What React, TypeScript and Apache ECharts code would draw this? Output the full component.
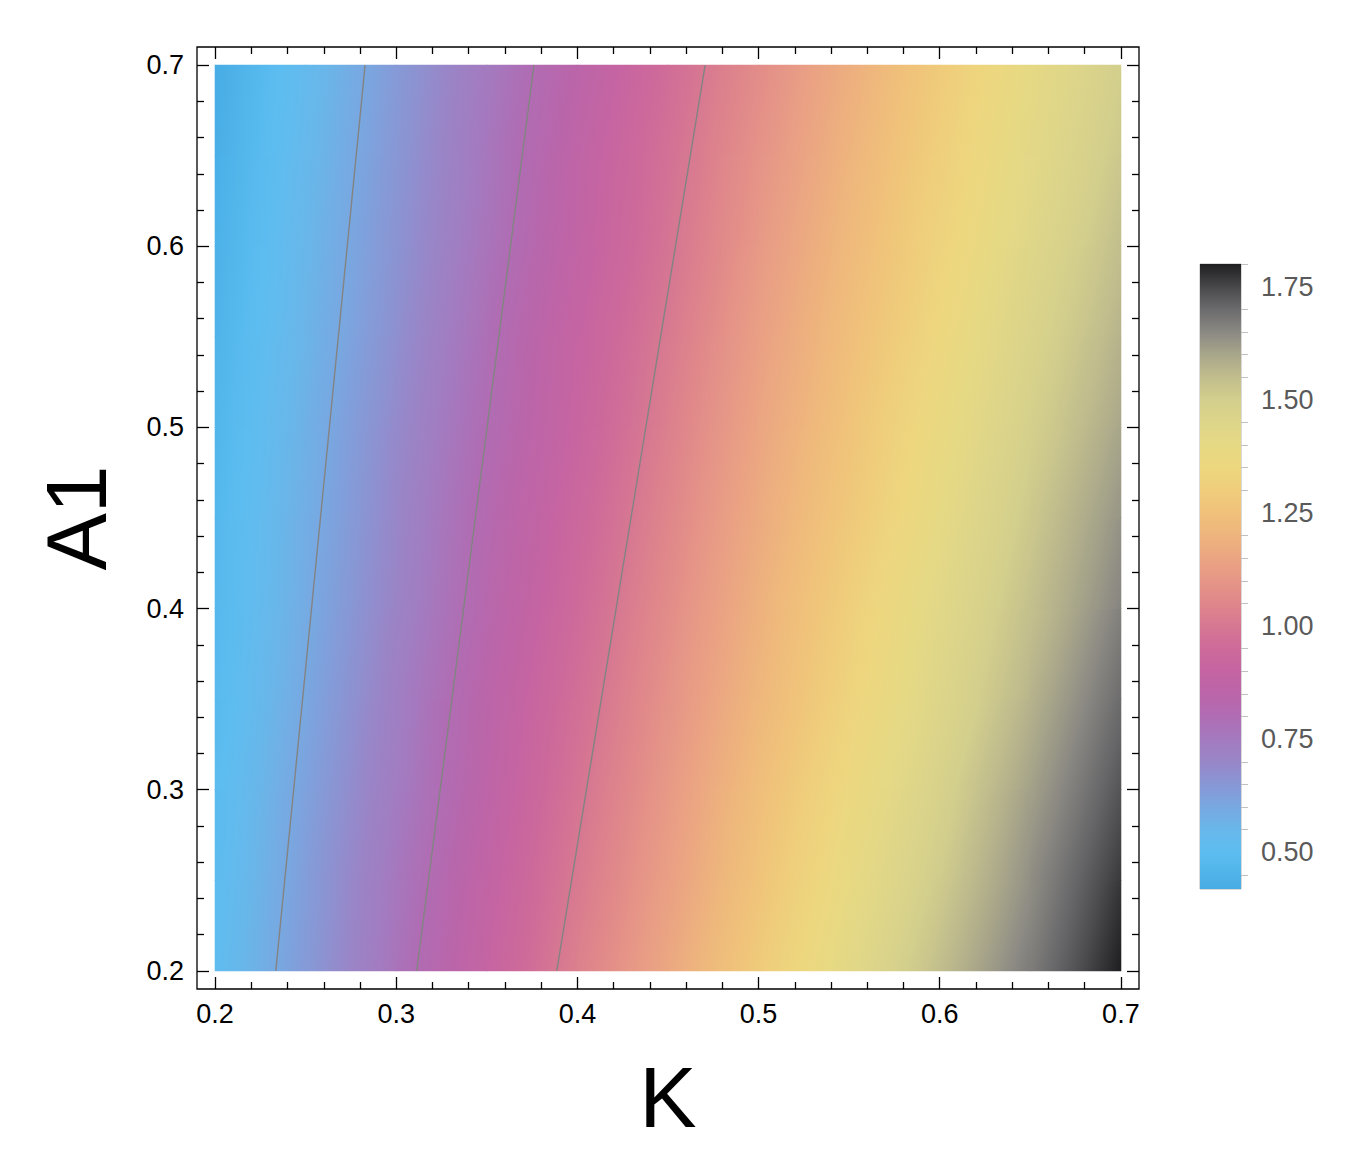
import React, { useEffect, useRef } from "react";
import * as echarts from "echarts";

// ---------- data ----------
const kValues = [0.2, 0.25, 0.3, 0.35, 0.4, 0.45, 0.5, 0.55, 0.6, 0.65, 0.7];
const a1Values = [0.2, 0.25, 0.3, 0.35, 0.4, 0.45, 0.5, 0.55, 0.6, 0.65, 0.7];

// function value along K, one array per A1 row
const rowA020 = [0.51, 0.64, 0.77, 0.9, 1.03, 1.16, 1.29, 1.42, 1.55, 1.67, 1.8];
const rowA025 = [0.5, 0.63, 0.76, 0.88, 1.01, 1.13, 1.26, 1.39, 1.51, 1.64, 1.77];
const rowA030 = [0.49, 0.62, 0.74, 0.86, 0.99, 1.11, 1.24, 1.36, 1.48, 1.61, 1.73];
const rowA035 = [0.48, 0.6, 0.73, 0.85, 0.97, 1.09, 1.21, 1.33, 1.45, 1.57, 1.7];
const rowA040 = [0.47, 0.59, 0.71, 0.83, 0.95, 1.07, 1.19, 1.31, 1.43, 1.54, 1.66];
const rowA045 = [0.47, 0.58, 0.7, 0.82, 0.93, 1.05, 1.17, 1.28, 1.4, 1.52, 1.63];
const rowA050 = [0.46, 0.57, 0.69, 0.8, 0.91, 1.03, 1.15, 1.26, 1.38, 1.49, 1.6];
const rowA055 = [0.45, 0.56, 0.67, 0.79, 0.9, 1.01, 1.13, 1.24, 1.35, 1.47, 1.57];
const rowA060 = [0.44, 0.55, 0.66, 0.77, 0.88, 0.99, 1.11, 1.22, 1.33, 1.44, 1.55];
const rowA065 = [0.43, 0.54, 0.65, 0.76, 0.87, 0.98, 1.09, 1.2, 1.31, 1.42, 1.52];
const rowA070 = [0.42, 0.53, 0.64, 0.75, 0.85, 0.96, 1.07, 1.18, 1.29, 1.4, 1.5];
const valueRows = [rowA020, rowA025, rowA030, rowA035, rowA040, rowA045, rowA050, rowA055, rowA060, rowA065, rowA070];

// contour lines [K, A1] end points
const contour060 = [[0.2335, 0.2], [0.2828, 0.7]];
const contour080 = [[0.3113, 0.2], [0.376, 0.7]];
const contour100 = [[0.3886, 0.2], [0.4705, 0.7]];

// ticks
const majorTicks = [0.2, 0.3, 0.4, 0.5, 0.6, 0.7];
const minorTicks = [0.22, 0.24, 0.26, 0.28, 0.32, 0.34, 0.36, 0.38, 0.42, 0.44, 0.46, 0.48,
  0.52, 0.54, 0.56, 0.58, 0.62, 0.64, 0.66, 0.68];
const barMajorTicks = [0.5, 0.75, 1.0, 1.25, 1.5, 1.75];
const barMinorTicks = [0.45, 0.55, 0.6, 0.65, 0.7, 0.8, 0.85, 0.9, 0.95, 1.05, 1.1, 1.15, 1.2,
  1.3, 1.35, 1.4, 1.45, 1.55, 1.6, 1.65, 1.7, 1.8];
const barMin = 0.419;
const barMax = 1.8;

// colour scale
const paletteValues = [0.42, 0.46, 0.5, 0.55, 0.6, 0.65, 0.7, 0.75, 0.8, 0.85, 0.9, 0.95, 1.0,
  1.05, 1.1, 1.15, 1.2, 1.25, 1.3, 1.35, 1.4, 1.45, 1.5, 1.55, 1.6, 1.65, 1.7, 1.75, 1.8];
const paletteColors = ["#48ace5", "#52b6eb", "#5dbdf0", "#68b7ea", "#78a8e1", "#8897d5", "#9886c8",
  "#a47abf", "#b06cb3", "#bb65a9", "#c564a2", "#ce6a9a", "#d67792", "#df868b", "#e69687", "#eba582",
  "#eeb47d", "#f0c17a", "#efcd7b", "#edd77e", "#e6d984", "#ddd589", "#d3cf8c", "#c1bd8d", "#a8a68a",
  "#8b8983", "#6b6a6c", "#48484b", "#1e1e20"];

const FONT = "'Liberation Sans', Arial, Helvetica, sans-serif";

function hexToRgb(h: string) {
  return [parseInt(h.slice(1, 3), 16), parseInt(h.slice(3, 5), 16), parseInt(h.slice(5, 7), 16)];
}
const paletteRgb = paletteColors.map(hexToRgb);

function colorAt(v: number): string {
  const n = paletteValues.length;
  if (v <= paletteValues[0]) return paletteColors[0];
  if (v >= paletteValues[n - 1]) return paletteColors[n - 1];
  let i = 0;
  while (i < n - 2 && v > paletteValues[i + 1]) i++;
  const t = (v - paletteValues[i]) / (paletteValues[i + 1] - paletteValues[i]);
  const a = paletteRgb[i], b = paletteRgb[i + 1];
  const c = a.map((x, j) => Math.round(x + (b[j] - x) * t));
  return `rgb(${c[0]},${c[1]},${c[2]})`;
}

// cells: [k0, a0, k1, a1, v(k0,a0), v(k1,a0), v(k0,a1), v(k1,a1)]
const cells: number[][] = [];
for (let j = 0; j < a1Values.length - 1; j++) {
  for (let i = 0; i < kValues.length - 1; i++) {
    cells.push([
      kValues[i], a1Values[j], kValues[i + 1], a1Values[j + 1],
      valueRows[j][i], valueRows[j][i + 1], valueRows[j + 1][i], valueRows[j + 1][i + 1],
    ]);
  }
}

export default function App() {
  const ref = useRef<HTMLDivElement>(null);
  useEffect(() => {
    if (!ref.current) return;
    const chart = echarts.init(ref.current, undefined, { renderer: "svg" });

    const tickStyle = { color: "#000", width: 1.3 };
    const xBase = {
      type: "value", min: 0.19, max: 0.71, gridIndex: 0,
      splitLine: { show: false }, axisLine: { show: false },
    };
    const yBase = { ...xBase };
    const labelStyle = { fontSize: 27, color: "#000", fontFamily: FONT };

    const option: any = {
      animation: false,
      backgroundColor: "#fff",
      grid: [
        { left: 197, top: 47, width: 942, height: 942, show: true, borderColor: "#000", borderWidth: 1.3, outerBoundsMode: "none" },
        { left: 1200, top: 264, width: 41, height: 625, show: true, borderColor: "#b4b4b4", borderWidth: 1, outerBoundsMode: "none" },
      ],
      xAxis: [
        {
          ...xBase, position: "bottom",
          axisTick: { show: true, inside: true, length: 12, customValues: majorTicks, lineStyle: tickStyle },
          axisLabel: { show: true, customValues: majorTicks, formatter: (v: number) => v.toFixed(1), margin: 11, ...labelStyle },
          name: "K", nameLocation: "middle", nameGap: 65,
          nameTextStyle: { fontSize: 86, color: "#000", fontFamily: FONT },
        },
        {
          ...xBase, position: "top",
          axisTick: { show: true, inside: true, length: 12, customValues: majorTicks, lineStyle: tickStyle },
          axisLabel: { show: false },
        },
        {
          ...xBase, position: "bottom",
          axisTick: { show: true, inside: true, length: 7, customValues: minorTicks, lineStyle: tickStyle },
          axisLabel: { show: false },
        },
        {
          ...xBase, position: "top",
          axisTick: { show: true, inside: true, length: 7, customValues: minorTicks, lineStyle: tickStyle },
          axisLabel: { show: false },
        },
        { type: "value", gridIndex: 1, min: 0, max: 1, show: false },
      ],
      yAxis: [
        {
          ...yBase, position: "left",
          axisTick: { show: true, inside: true, length: 12, customValues: majorTicks, lineStyle: tickStyle },
          axisLabel: { show: true, customValues: majorTicks, formatter: (v: number) => v.toFixed(1), margin: 13, ...labelStyle },
          name: "A1", nameLocation: "middle", nameGap: 78,
          nameTextStyle: { fontSize: 86, color: "#000", fontFamily: FONT },
        },
        {
          ...yBase, position: "right",
          axisTick: { show: true, inside: true, length: 12, customValues: majorTicks, lineStyle: tickStyle },
          axisLabel: { show: false },
        },
        {
          ...yBase, position: "left",
          axisTick: { show: true, inside: true, length: 7, customValues: minorTicks, lineStyle: tickStyle },
          axisLabel: { show: false },
        },
        {
          ...yBase, position: "right",
          axisTick: { show: true, inside: true, length: 7, customValues: minorTicks, lineStyle: tickStyle },
          axisLabel: { show: false },
        },
        {
          type: "value", gridIndex: 1, position: "right", min: barMin, max: barMax,
          splitLine: { show: false }, axisLine: { show: false },
          axisTick: { show: true, inside: false, length: 14, customValues: barMajorTicks, lineStyle: { color: "#a8a8a8", width: 1 } },
          axisLabel: {
            show: true, customValues: barMajorTicks, formatter: (v: number) => v.toFixed(2),
            margin: 20, fontSize: 27, color: "#5a5a5a", fontFamily: FONT,
          },
        },
        {
          type: "value", gridIndex: 1, position: "right", min: barMin, max: barMax,
          splitLine: { show: false }, axisLine: { show: false },
          axisTick: { show: true, inside: false, length: 7, customValues: barMinorTicks, lineStyle: { color: "#c0c0c0", width: 1 } },
          axisLabel: { show: false },
        },
      ],
      series: [
        {
          type: "custom",
          xAxisIndex: 0,
          yAxisIndex: 0,
          silent: true,
          encode: { x: [0, 2], y: [1, 3] },
          data: cells,
          renderItem: (params: any, api: any) => {
            const k0 = api.value(0), a0 = api.value(1), k1 = api.value(2), a1 = api.value(3);
            const v00 = api.value(4), v10 = api.value(5), v01 = api.value(6), v11 = api.value(7);
            const pBL = api.coord([k0, a0]);
            const pTR = api.coord([k1, a1]);
            const x = pBL[0], y = pTR[1];
            const w = pTR[0] - pBL[0], h = pBL[1] - pTR[1];
            const gx = ((v10 - v00) + (v11 - v01)) / (2 * w);
            const gy = ((v00 - v01) + (v10 - v11)) / (2 * h);
            const vc = (v00 + v10 + v01 + v11) / 4;
            const cx = x + w / 2, cy = y + h / 2;
            const D = Math.abs(gx) * w / 2 + Math.abs(gy) * h / 2;
            let fill: any;
            if (D < 1e-9) {
              fill = colorAt(vc);
            } else {
              const g2 = gx * gx + gy * gy;
              const t = D / g2;
              const stops: any[] = [];
              const n = 6;
              for (let s = 0; s <= n; s++) {
                const f = s / n;
                stops.push({ offset: f, color: colorAt(vc - D + 2 * D * f) });
              }
              fill = new echarts.graphic.LinearGradient(cx - gx * t, cy - gy * t, cx + gx * t, cy + gy * t, stops, true);
            }
            return {
              type: "rect",
              shape: { x: x - 0.4, y: y - 0.4, width: w + 0.8, height: h + 0.8 },
              style: { fill },
              silent: true,
            };
          },
          z: 1,
        },
        ...[contour060, contour080, contour100].map((c) => ({
          type: "line",
          xAxisIndex: 0,
          yAxisIndex: 0,
          data: c,
          symbol: "none",
          showSymbol: false,
          silent: true,
          lineStyle: { color: "#838383", width: 1.4 },
          z: 3,
        })),
        {
          type: "custom",
          xAxisIndex: 4,
          yAxisIndex: 4,
          silent: true,
          data: [[0, barMin, 1, barMax]],
          encode: { x: [0, 2], y: [1, 3] },
          renderItem: (params: any, api: any) => {
            const p0 = api.coord([api.value(0), api.value(1)]);
            const p1 = api.coord([api.value(2), api.value(3)]);
            const stops = paletteValues.map((v, i) => ({
              offset: Math.max(0, Math.min(1, (v - barMin) / (barMax - barMin))),
              color: paletteColors[i],
            }));
            return {
              type: "rect",
              shape: { x: p0[0], y: p1[1], width: p1[0] - p0[0], height: p0[1] - p1[1] },
              style: { fill: new echarts.graphic.LinearGradient(0, 1, 0, 0, stops) },
              silent: true,
            };
          },
        },
      ],
    };
    chart.setOption(option);
    return () => chart.dispose();
  }, []);
  return (
    <div
      ref={ref}
      style={{ position: "absolute", left: 0, top: 0, width: 1362, height: 1170 }}
    />
  );
}
